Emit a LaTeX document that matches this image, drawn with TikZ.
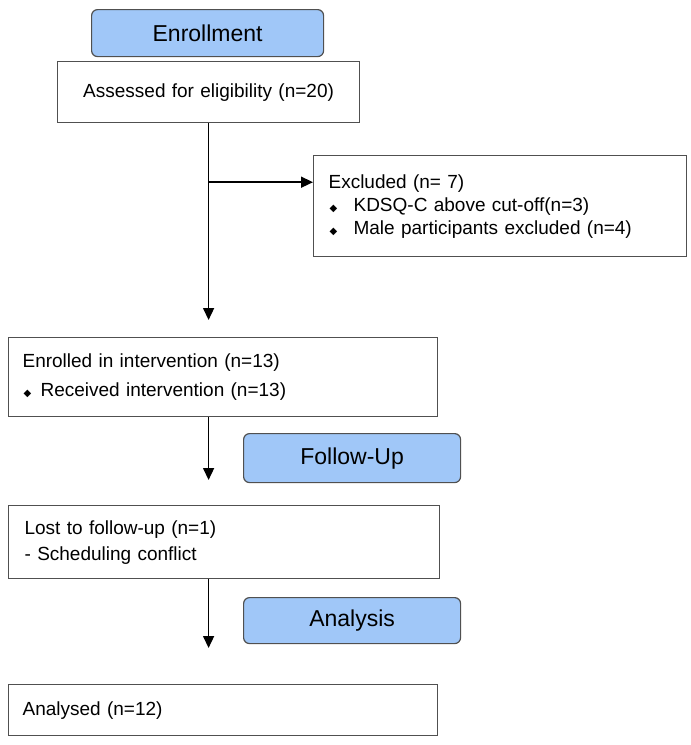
\documentclass[tikz,border=0pt]{standalone}
\usepackage{fontspec}
\setmainfont{Liberation Sans}
\newfontfamily\symfont{DejaVu Sans}
\usetikzlibrary{positioning, arrows.meta, calc}
\definecolor{stagefill}{RGB}{160,199,248}
\definecolor{boxline}{RGB}{80,80,80}
\newcommand{\dmd}{{\symfont\fontsize{10}{10}\selectfont ◆}}

\begin{document}
\begin{tikzpicture}[x=1pt,y=-1pt]
	\tikzset{
		stage/.style={draw=boxline, fill=stagefill, rounded corners=6pt, line width=1.2pt, anchor=north west, inner sep=0pt, font=\fontsize{23}{27}\selectfont},
		infobox/.style={draw=boxline, fill=white, line width=1.2pt, anchor=north west, align=left, inner xsep=14pt, inner ysep=0pt, font=\fontsize{19}{23}\selectfont},
		flow/.style={line width=1.5pt, -{Triangle[length=12pt,width=11pt]}}
	}
	\useasboundingbox (0,0) rectangle (691,745);
	% stages
	\node[stage, minimum width=232pt, minimum height=47pt] (enrol) at (91,9) {Enrollment};
	\node[stage, minimum width=217pt, minimum height=49pt] (fup) at (243,433) {Follow-Up};
	\node[stage, minimum width=217pt, minimum height=46pt] (anal) at (243,597) {Analysis};
	% boxes
	\node[infobox, align=center, text width=274pt, minimum height=61pt] (assess) at (57,61) {Assessed for eligibility (n=20)};
	\node[infobox, inner xsep=15pt, text width=343pt, minimum height=101pt] (excl) at (313,155)
		{Excluded (n= 7)\\ \makebox[25pt][l]{\hspace{1pt}\dmd}KDSQ-C above cut-off(n=3)\\ \makebox[25pt][l]{\hspace{1pt}\dmd}Male participants excluded (n=4)};
	\node[infobox, text width=401pt, minimum height=79pt] (enrolled) at (8,337)
		{Enrolled in intervention (n=13)\\[6pt] \makebox[18pt][l]{\hspace{1pt}\dmd}Received intervention (n=13)};
	\node[infobox, inner xsep=16pt, text width=399pt, minimum height=73pt] (lost) at (8,505)
		{Lost to follow-up (n=1)\\[3pt] - Scheduling conflict};
	\node[infobox, text width=401pt, minimum height=51pt] (analysed) at (8,684) {Analysed (n=12)};
	% connectors
	\path (assess.south) ++(0,59) coordinate (split);
	\draw[flow, shorten >=17pt] (assess.south) -- (assess.south |- enrolled.north);
	\draw[flow] (split) -- (split -| excl.west);
	\draw[flow, shorten >=25pt] (assess.south |- enrolled.south) -- (assess.south |- lost.north);
	\draw[flow, shorten >=36pt] (assess.south |- lost.south) -- (assess.south |- analysed.north);
\end{tikzpicture}
\end{document}
